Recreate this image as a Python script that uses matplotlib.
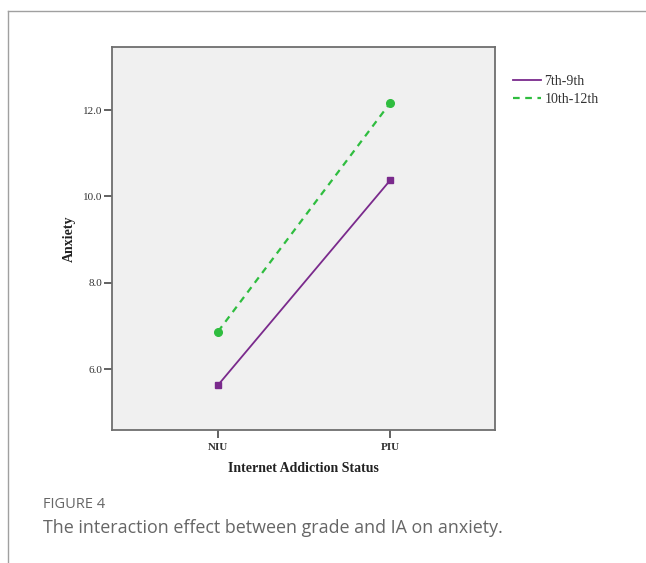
import matplotlib
matplotlib.use("Agg")
import matplotlib.pyplot as plt
from matplotlib.lines import Line2D

categories = ["NIU", "PIU"]
grade_7_9 = [5.63, 10.37]
grade_10_12 = [6.87, 12.16]
series_labels = ["7th-9th", "10th-12th"]
yticks = [6.0, 8.0, 10.0, 12.0]

W, H = 646, 563
fig = plt.figure(figsize=(W/100, H/100), dpi=100)
fig.patch.set_facecolor("white")

# outer frame lines
fig.add_artist(Line2D([8/W, 1], [1-11/H, 1-11/H], color="#a0a0a0", lw=1.0))
fig.add_artist(Line2D([8/W, 8/W], [0, 1-11/H], color="#a0a0a0", lw=1.0))

ax = fig.add_axes([112/W, 1-430/H, 383/W, 383/H])
ax.set_facecolor("#f0f0f0")
x = list(range(len(categories)))
purple = "#7a2a8c"
green = "#2fbd3f"
ax.plot(x, grade_7_9, color=purple, lw=1.3, marker="s", ms=4.5, label=series_labels[0])
ax.plot(x, grade_10_12, color=green, lw=1.6, ls=(0, (3, 2.5)), marker="o", ms=5.5, label=series_labels[1])

ax.set_xlim(-0.616, 1.61)
ax.set_ylim(4.59, 13.46)
ax.set_xticks(x)
ax.set_xticklabels(categories)
ax.set_yticks(yticks)
ax.set_yticklabels([f"{v:.1f}" for v in yticks])
for s in ax.spines.values():
    s.set_color("#6e6e6e")
    s.set_linewidth(1.3)
ax.tick_params(direction="out", length=6, width=1.3, color="#555555",
               labelsize=8, labelcolor="#333333", pad=1)
ax.tick_params(axis="x", pad=3)
for lab in ax.get_xticklabels():
    lab.set_fontfamily("Liberation Serif")
    lab.set_fontweight("bold")
for lab in ax.get_yticklabels():
    lab.set_fontfamily("Liberation Serif")

ax.set_xlabel("Internet Addiction Status", fontfamily="Liberation Serif",
              fontweight="bold", fontsize=10, color="#222222", labelpad=7.5)
ax.set_ylabel("Anxiety", fontfamily="Liberation Serif", fontweight="bold",
              fontsize=10, color="#222222", labelpad=5)

handles = [Line2D([], [], color=purple, lw=1.3),
           Line2D([], [], color=green, lw=1.6, ls=(0, (3, 2.5)))]
leg = fig.legend(handles, series_labels, loc="upper left",
                 bbox_to_anchor=(513/W, 1-75/H), frameon=False,
                 prop={"family": "Liberation Serif", "size": 10},
                 handlelength=2.0, handletextpad=0.25, labelspacing=0.38,
                 borderpad=0, borderaxespad=0)
for t in leg.get_texts():
    t.set_color("#333333")

fig.text(43/W, 1-505/H, "FIGURE 4", fontfamily="Open Sans", fontsize=10.5,
         color="#666666", va="center", ha="left")
fig.text(43/W, 1-528/H, "The interaction effect between grade and IA on anxiety.",
         fontfamily="Open Sans", fontsize=12.9, color="#666666", va="center", ha="left")

fig.savefig("out.png", dpi=100, facecolor="white")
